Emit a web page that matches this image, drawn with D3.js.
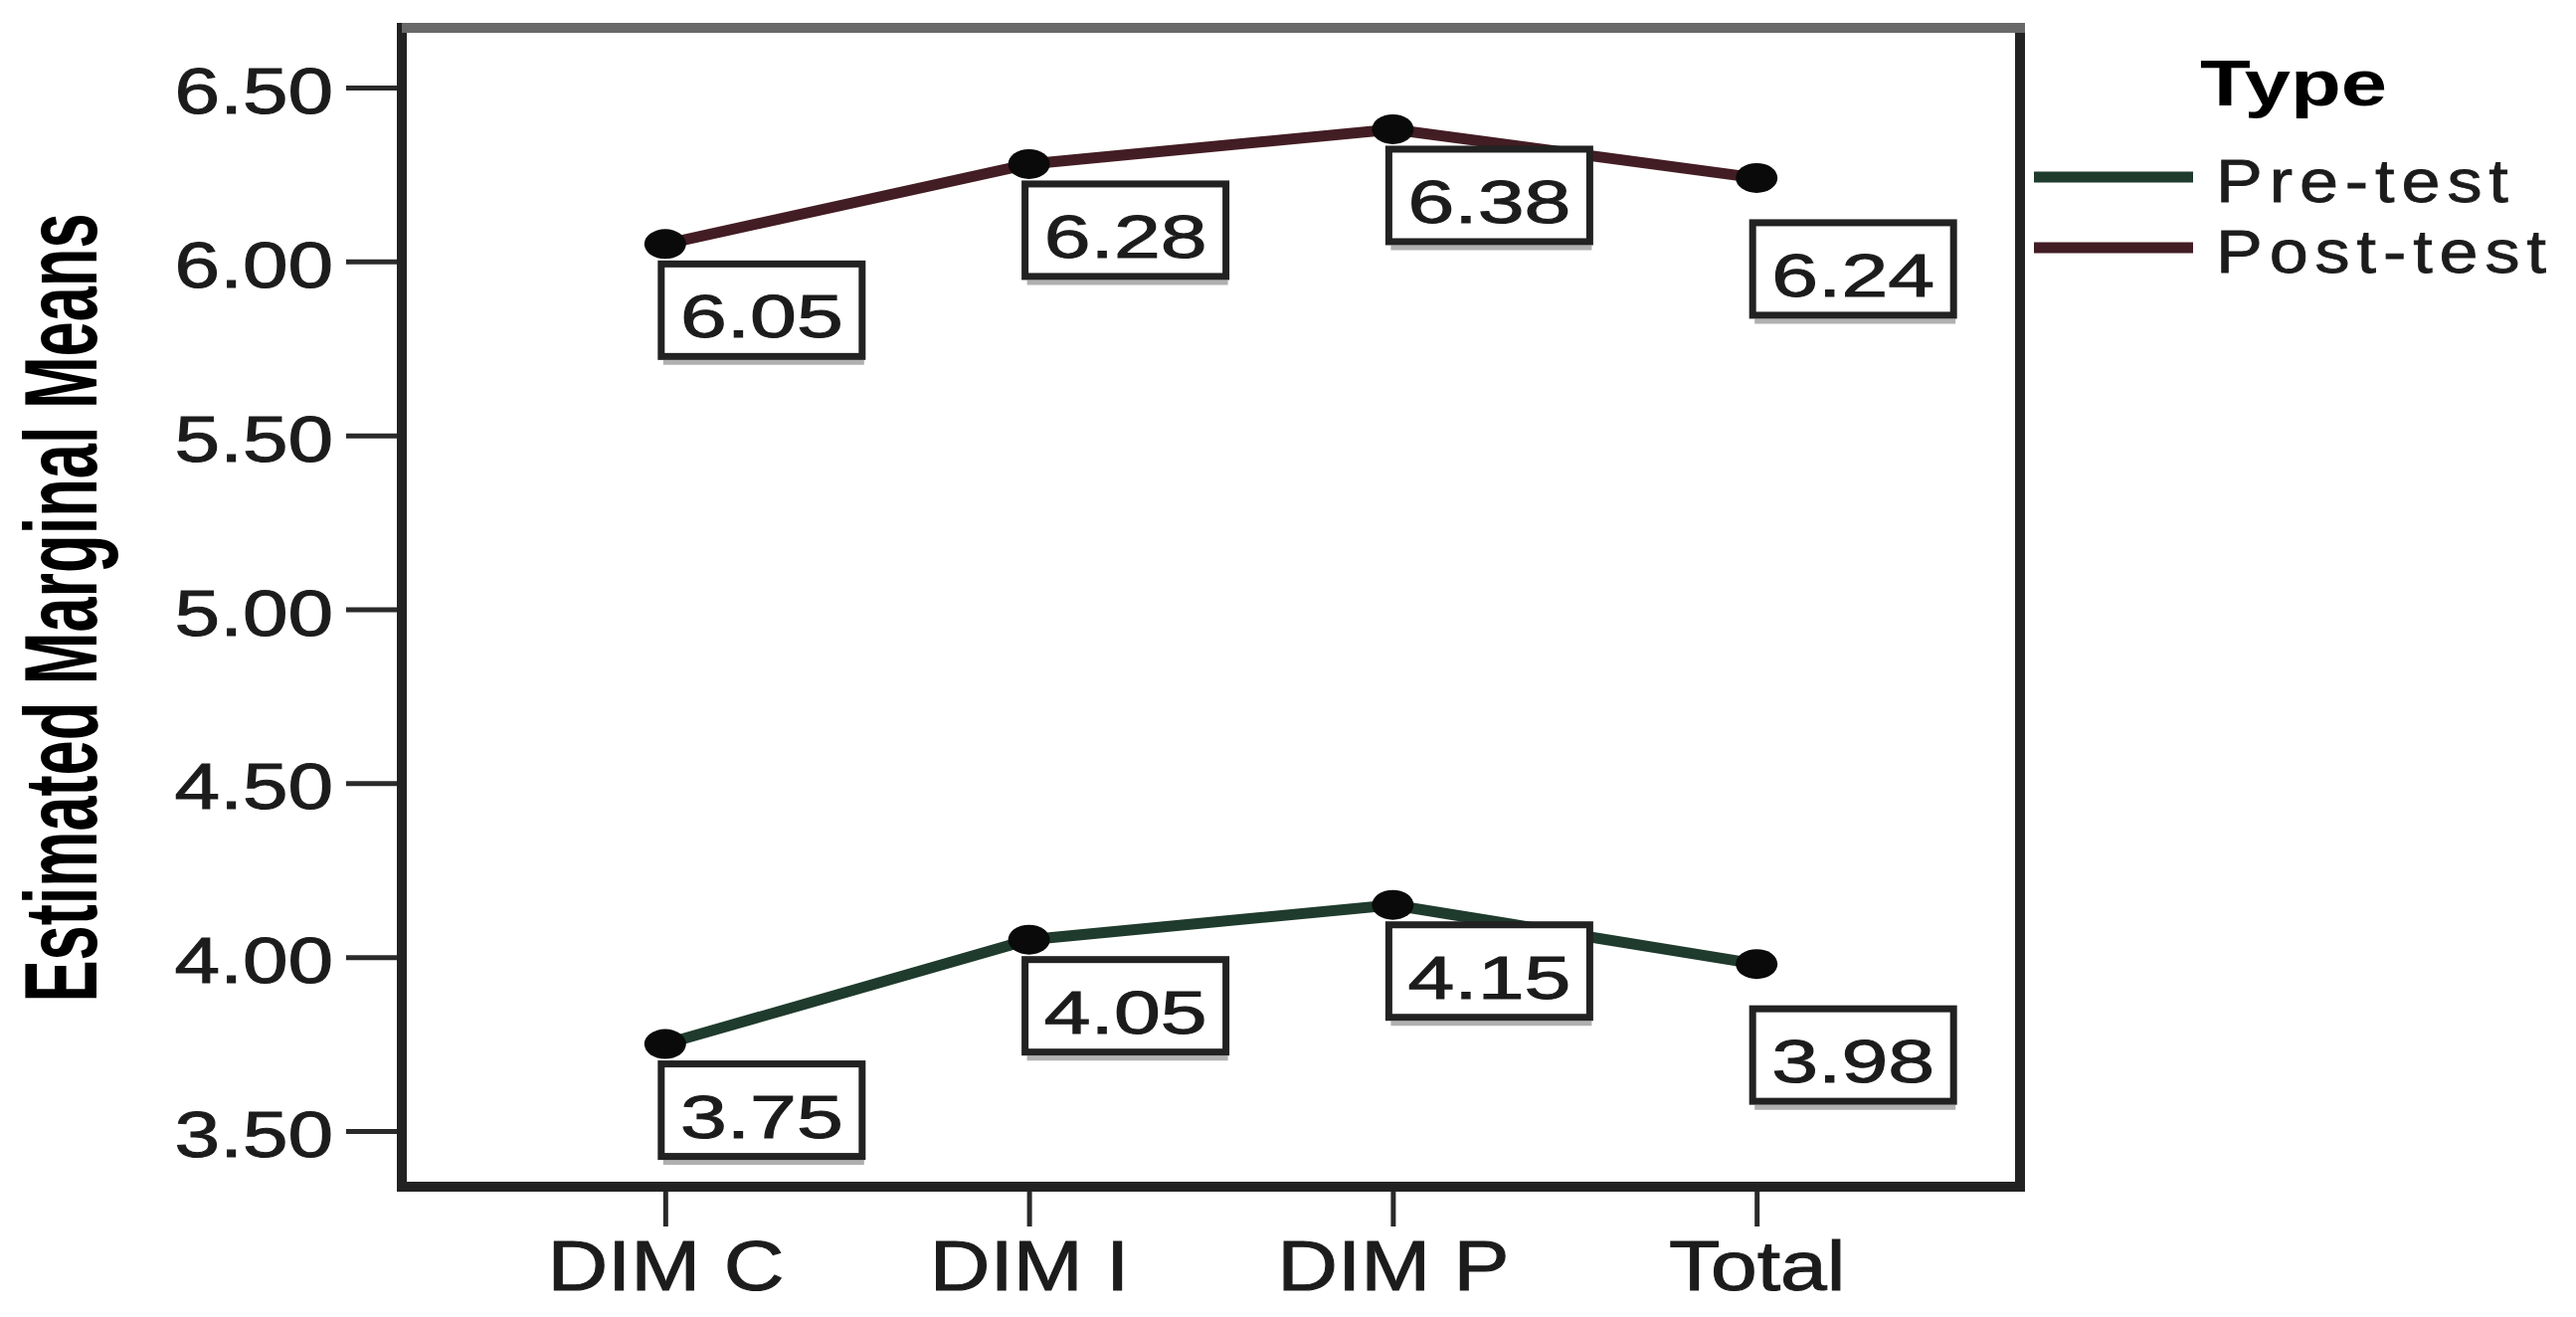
<!DOCTYPE html>
<html>
<head>
<meta charset="utf-8">
<script src="https://cdnjs.cloudflare.com/ajax/libs/d3/7.8.5/d3.min.js"></script>
<style>
    html, body { margin: 0; padding: 0; background: #fff; }
    svg text { font-family: "Liberation Sans", Arial, sans-serif; fill: #1c1c1c; }
</style>
</head>
<body>
<svg id="chart" width="2590" height="1324"></svg>
<script>
var categories = ["DIM C", "DIM I", "DIM P", "Total"];
var preTest = [3.75, 4.05, 4.15, 3.98];
var postTest = [6.05, 6.28, 6.38, 6.24];
var seriesNames = ["Pre-test", "Post-test"];
var yTicks = [3.5, 4.0, 4.5, 5.0, 5.5, 6.0, 6.5];
var yTitle = "Estimated Marginal Means";
var legendTitle = "Type";

(function () {

    var svg = d3.select("#chart"),
        frame = {left: 404, right: 2031, top: 28, bottom: 1193},
        fmt = d3.format(".2f");

    var x = d3.scalePoint().domain(categories).range([frame.left, frame.right]).padding(0.724),
        y = d3.scaleLinear().domain([3.5, 6.5]).range([1137, 88]),
        color = d3.scaleOrdinal().domain(seriesNames).range(["#1f3b2d", "#431d24"]);

    var series = [
        {name: seriesNames[0], values: preTest},
        {name: seriesNames[1], values: postTest}
    ];

    // axes
    var yAxis = svg.append("g")
        .attr("transform", "translate(" + frame.left + ",0)")
        .call(d3.axisLeft(y).tickValues(yTicks).tickFormat(fmt).tickSize(56).tickPadding(12));
    yAxis.select(".domain").remove();
    yAxis.selectAll(".tick line").attr("stroke", "#2a2a2a").attr("stroke-width", 5);
    yAxis.selectAll(".tick text")
        .attr("font-size", 64)
        .attr("x", -69 / 1.28)
        .attr("dy", "0.4em")
        .attr("transform", "scale(1.28,1)")
        .style("stroke", "#1c1c1c").style("stroke-width", 1);

    var xAxis = svg.append("g")
        .attr("transform", "translate(0," + frame.bottom + ")")
        .call(d3.axisBottom(x).tickSize(40).tickPadding(14));
    xAxis.select(".domain").remove();
    xAxis.selectAll(".tick line").attr("stroke", "#2a2a2a").attr("stroke-width", 5);
    xAxis.selectAll(".tick text")
        .attr("font-size", 70)
        .attr("transform", "scale(1.2,1)")
        .style("stroke", "#1c1c1c").style("stroke-width", 1);

    // frame
    svg.append("rect")
        .attr("x", frame.left).attr("y", frame.top)
        .attr("width", frame.right - frame.left).attr("height", frame.bottom - frame.top)
        .style("fill", "none").style("stroke", "#222").style("stroke-width", 10);
    svg.append("line")
        .attr("x1", frame.left).attr("x2", frame.right + 5)
        .attr("y1", frame.top).attr("y2", frame.top)
        .style("stroke", "#686868").style("stroke-width", 10);

    // y title
    svg.append("text")
        .attr("transform", "translate(97,611) rotate(-90) scale(1,1.35)")
        .attr("text-anchor", "middle")
        .attr("textLength", 793)
        .attr("lengthAdjust", "spacingAndGlyphs")
        .style("font-family", "'Liberation Sans Narrow', 'Arial Narrow', 'Liberation Sans', Arial, sans-serif")
        .style("font-weight", "bold")
        .style("font-size", "77px")
        .style("fill", "#000")
        .text(yTitle);

    // lines
    var line = d3.line()
        .x(function (d, i) { return x(categories[i]); })
        .y(function (d) { return y(d); });

    svg.selectAll(".series")
        .data(series)
        .enter().append("path")
        .attr("class", "series")
        .attr("d", function (d) { return line(d.values); })
        .style("fill", "none")
        .style("stroke", function (d) { return color(d.name); })
        .style("stroke-width", 11);

    var points = [];
    series.forEach(function (s) {
        s.values.forEach(function (v, i) {
            points.push({cat: categories[i], idx: i, value: v});
        });
    });

    svg.selectAll(".dot")
        .data(points)
        .enter().append("ellipse")
        .attr("class", "dot")
        .attr("cx", function (d) { return x(d.cat); })
        .attr("cy", function (d) { return y(d.value); })
        .attr("rx", 21).attr("ry", 15)
        .style("fill", "#0a0a0a");

    // value labels
    var lab = svg.selectAll(".lab")
        .data(points)
        .enter().append("g")
        .attr("class", "lab")
        .attr("transform", function (d) {
            var off = d.idx === categories.length - 1 ? 45 : 20;
            return "translate(" + (x(d.cat) - 4) + "," + (y(d.value) + off) + ")";
        });
    lab.append("line")
        .attr("x1", 2).attr("x2", 204).attr("y1", 99).attr("y2", 99)
        .style("stroke", "#b0b0b0").style("stroke-width", 5);
    lab.append("rect")
        .attr("width", 202).attr("height", 93)
        .style("fill", "#fff").style("stroke", "#222").style("stroke-width", 7);
    lab.append("text")
        .attr("transform", "translate(101,74) scale(1.38,1)")
        .attr("text-anchor", "middle")
        .style("font-size", "61px")
        .style("stroke", "#1c1c1c").style("stroke-width", 1)
        .text(function (d) { return fmt(d.value); });

    // legend
    svg.append("text")
        .attr("transform", "translate(2212,106) scale(1.3,1)")
        .style("font-size", "64px")
        .style("font-weight", "bold")
        .style("fill", "#000")
        .text(legendTitle);

    var leg = svg.selectAll(".leg")
        .data(series)
        .enter().append("g")
        .attr("class", "leg")
        .attr("transform", function (d, i) { return "translate(0," + (178 + i * 71) + ")"; });
    leg.append("line")
        .attr("x1", 2045).attr("x2", 2205)
        .style("stroke", function (d) { return color(d.name); })
        .style("stroke-width", 11);
    leg.append("text")
        .attr("transform", "translate(2228,25) scale(1.15,1)")
        .style("font-size", "61px")
        .style("letter-spacing", "6px")
        .style("stroke", "#1c1c1c").style("stroke-width", 0.8)
        .text(function (d) { return d.name; });

}());
</script>
</body>
</html>
